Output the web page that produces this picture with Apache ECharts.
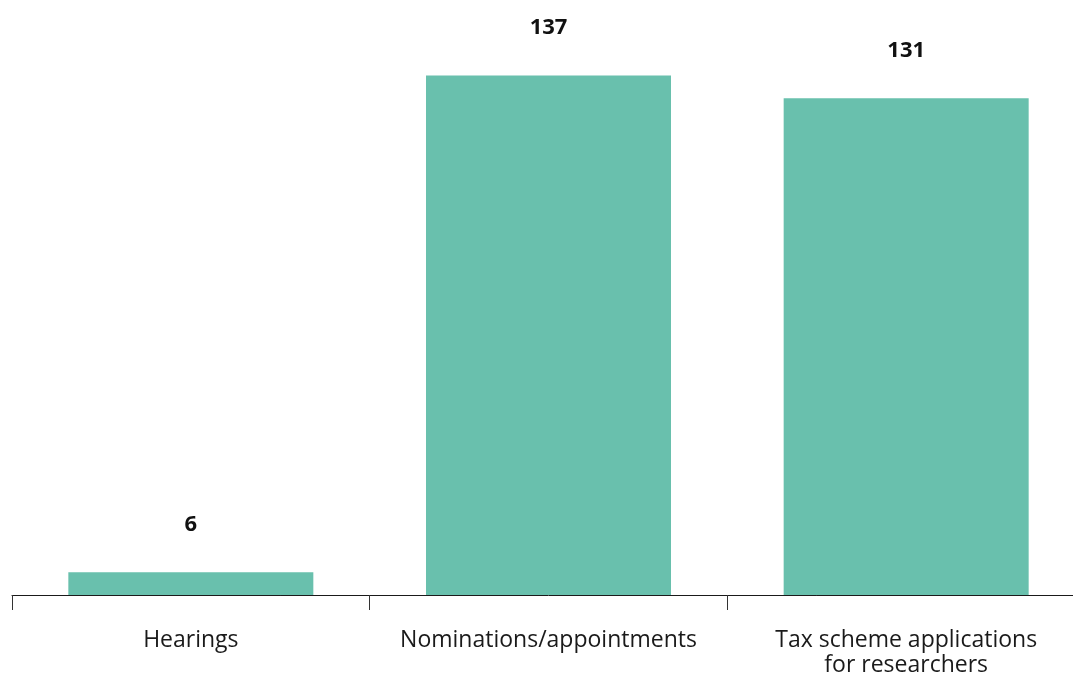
<!DOCTYPE html>
<html>
<head>
<meta charset="utf-8">
<script src="https://cdn.jsdelivr.net/npm/echarts@6/dist/echarts.min.js"></script>
<style>
html,body{margin:0;padding:0;background:#fff;overflow:hidden;width:1073px;height:678px;}
#chart{width:1085px;height:678px;}
</style>
</head>
<body>
<div id="chart"></div>
<script>
const categories = ["Hearings", "Nominations/appointments", "Tax scheme applications\nfor researchers"];
const values = [6, 137, 131];

const chart = echarts.init(document.getElementById('chart'), null, {renderer: 'canvas'});
chart.setOption({
  animation: false,
  backgroundColor: '#ffffff',
  grid: {left: 12, right: 0, top: 26.25, height: 573.75, containLabel: false},
  xAxis: {
    type: 'category',
    data: categories,
    axisLine: {show: true, lineStyle: {color: '#1a1a1a', width: 1}},
    axisTick: {show: true, length: 15, lineStyle: {color: '#333', width: 1}},
    axisLabel: {
      color: '#1a1a1a',
      fontFamily: 'Open Sans',
      fontSize: 23,
      lineHeight: 25,
      margin: 33,
      interval: 0,
      verticalAlign: 'top'
    }
  },
  yAxis: {
    type: 'value',
    min: 0,
    max: 150,
    show: false,
    splitLine: {show: false}
  },
  series: [{
    type: 'bar',
    data: values,
    barWidth: 245,
    itemStyle: {color: '#69c0ad'},
    label: {
      show: true,
      position: 'top',
      distance: 37,
      color: '#111',
      fontFamily: 'Open Sans',
      fontWeight: 'bold',
      fontSize: 22,
      lineHeight: 22
    }
  }]
});
</script>
</body>
</html>
